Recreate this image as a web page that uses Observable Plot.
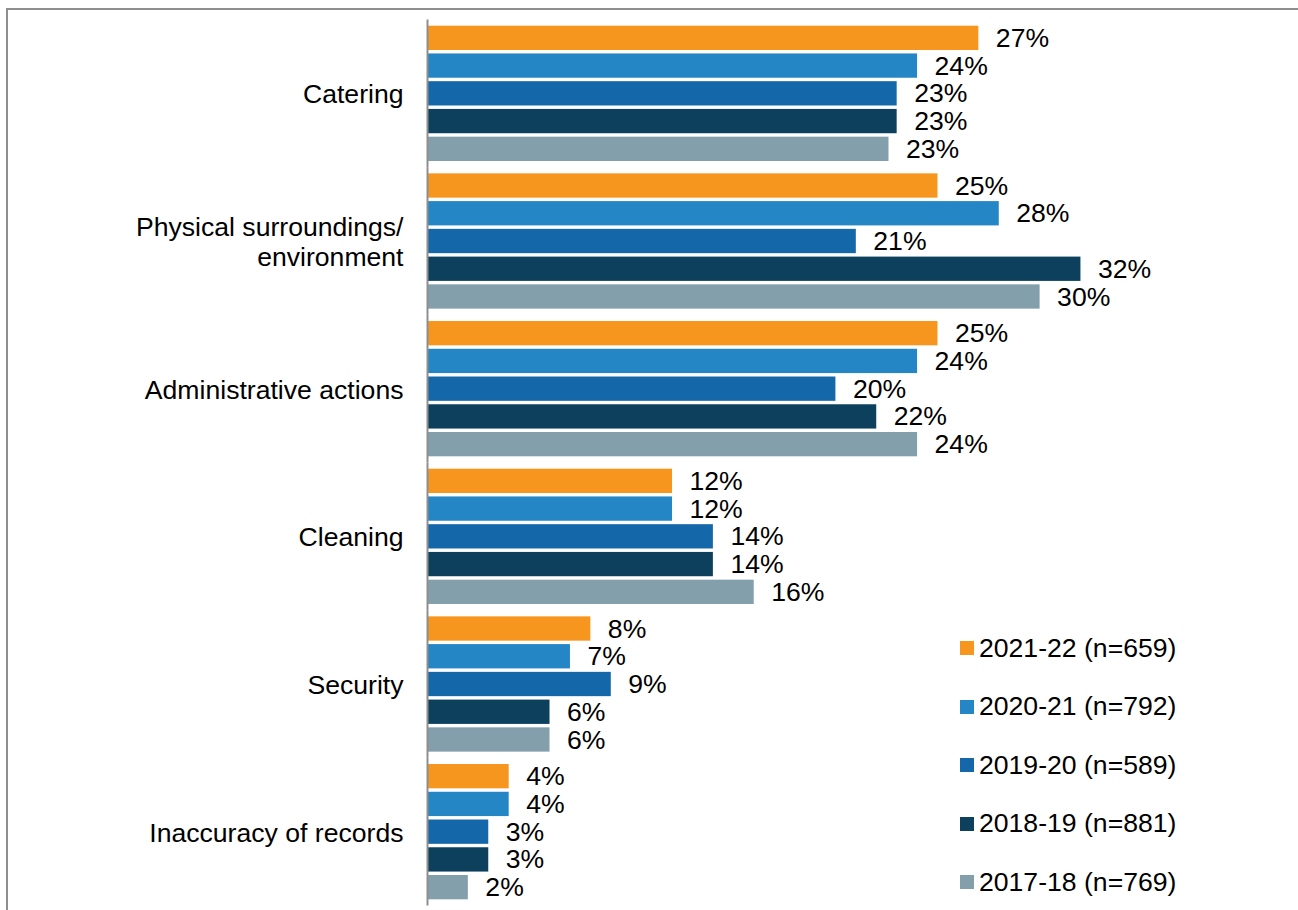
<!DOCTYPE html>
<html>
<head>
<meta charset="utf-8">
<script src="https://cdn.jsdelivr.net/npm/d3@7"></script>
<script src="https://cdn.jsdelivr.net/npm/@observablehq/plot@0.6"></script>
<style>
  html, body { margin: 0; padding: 0; background: #fff; }
  #wrap { position: relative; width: 1298px; height: 910px; overflow: hidden; font-family: "Liberation Sans", Arial, sans-serif; }
  #frame { position: absolute; left: 6px; top: 8px; width: 1400px; height: 1000px; border-top: 2px solid #8e8e8e; border-left: 2px solid #8e8e8e; pointer-events: none; z-index: 2; }
  #legend { position: absolute; left: 960px; top: 619px; font-size: 26.6px; color: #000; z-index: 3; }
  .item { height: 58.5px; display: flex; align-items: center; }
  .sw { width: 14px; height: 14px; margin-right: 5px; flex: none; }
</style>
</head>
<body>
<div id="wrap">
  <div id="chart"></div>
  <div id="frame"></div>
  <div id="legend"></div>
</div>
<script>
const categories = ["Catering", "Physical surroundings/ environment", "Administrative actions", "Cleaning", "Security", "Inaccuracy of records"];
const categoryLabels = ["Catering", "Physical surroundings/\nenvironment", "Administrative actions", "Cleaning", "Security", "Inaccuracy of records"];
const years = ["2021-22 (n=659)", "2020-21 (n=792)", "2019-20 (n=589)", "2018-19 (n=881)", "2017-18 (n=769)"];
const colors = ["#F7961F", "#2586C5", "#1467A8", "#0C405D", "#849FAC"];
// values per year, in category order
const v2021_22 = [27, 25, 25, 12, 8, 4];
const v2020_21 = [24, 28, 24, 12, 7, 4];
const v2019_20 = [23, 21, 20, 14, 9, 3];
const v2018_19 = [23, 32, 22, 14, 6, 3];
const v2017_18 = [22.6, 30, 24, 16, 6, 2];

const series = [v2021_22, v2020_21, v2019_20, v2018_19, v2017_18];
const data = [];
categories.forEach((c, i) => {
  years.forEach((y, j) => {
    data.push({category: c, year: y, value: series[j][i]});
  });
});
const labelOf = new Map(categories.map((c, i) => [c, categoryLabels[i]]));

const chart = Plot.plot({
  width: 1298,
  height: 910,
  marginLeft: 427,
  marginRight: 54.2,
  marginTop: 19.5,
  marginBottom: 4.5,
  style: {fontFamily: "Liberation Sans, Arial, sans-serif", fontSize: "26.6px", background: "transparent", color: "#000"},
  x: {domain: [0, 40], axis: null},
  y: {domain: years, axis: null, paddingInner: 0.124, paddingOuter: 0.223, round: false},
  fy: {domain: categories, padding: 0, axis: null, round: false},
  color: {domain: years, range: colors},
  marks: [
    Plot.barX(data, {x: "value", y: "year", fy: "category", fill: "year"}),
    Plot.text(data, {x: "value", y: "year", fy: "category", text: d => Math.round(d.value) + "%", textAnchor: "start", dx: 17, fill: "#000"}),
    Plot.ruleX([0], {stroke: "#8e8e8e", strokeWidth: 2}),
    Plot.axisFy({anchor: "left", tickSize: 0, tickPadding: 24, label: null, lineHeight: 1.13, tickFormat: d => labelOf.get(d), fill: "#000"})
  ]
});
document.getElementById("chart").appendChild(chart);

const legend = document.getElementById("legend");
years.forEach((y, j) => {
  const item = document.createElement("div");
  item.className = "item";
  const sw = document.createElement("span");
  sw.className = "sw";
  sw.style.background = colors[j];
  const t = document.createElement("span");
  t.textContent = y;
  item.appendChild(sw);
  item.appendChild(t);
  legend.appendChild(item);
});
</script>
</body>
</html>
